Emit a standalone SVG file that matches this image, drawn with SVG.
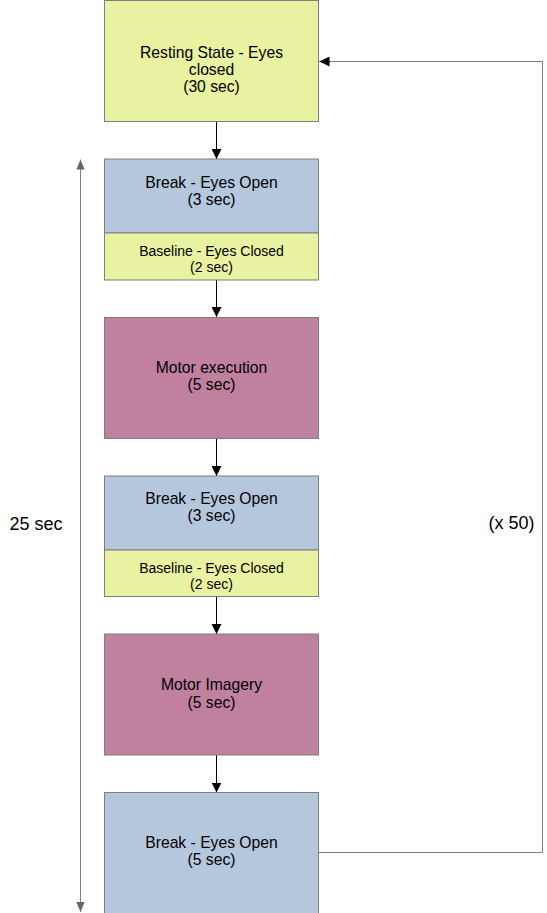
<svg xmlns="http://www.w3.org/2000/svg" width="547" height="913" viewBox="0 0 547 913">
<style>
.box{stroke:#7f7f7f;stroke-width:1}
.y{fill:#e8f2a1}
.b{fill:#b4c7dc}
.m{fill:#bf819e}
text{font-family:"Liberation Sans",Arial,sans-serif;fill:#000;text-anchor:middle}
.t{font-size:15.7px}
.s{font-size:14px}
.l{font-size:18px}
.c{fill:none;stroke:#000;stroke-width:1}
.g{fill:none;stroke:#7f7f7f;stroke-width:1}
</style>
<defs>
<marker id="ah" markerWidth="10" markerHeight="10" refX="10" refY="5" orient="auto" markerUnits="userSpaceOnUse">
<path d="M0,0 L10,5 L0,10 Z" fill="#000"/>
</marker>
<marker id="gh" markerWidth="10" markerHeight="12" refX="12" refY="5" orient="auto" markerUnits="userSpaceOnUse" viewBox="0 0 12 10">
<path d="M0,0 L12,5 L0,10 Z" fill="#666"/>
</marker>
</defs>
<rect width="547" height="913" fill="#fff"/>
<g id="connectors">
<line class="c" x1="216.5" y1="122" x2="216.5" y2="159" marker-end="url(#ah)"/>
<line class="c" x1="216.5" y1="280" x2="216.5" y2="317" marker-end="url(#ah)"/>
<line class="c" x1="216.5" y1="438.5" x2="216.5" y2="476" marker-end="url(#ah)"/>
<line class="c" x1="216.5" y1="596.5" x2="216.5" y2="634" marker-end="url(#ah)"/>
<line class="c" x1="216.5" y1="755" x2="216.5" y2="792.5" marker-end="url(#ah)"/>
<path class="g" d="M319,852.5 H542.5 V61.5 H330"/>
<line class="c" x1="330" y1="61.5" x2="319.5" y2="61.5" marker-end="url(#ah)"/>
<line class="g" x1="80.5" y1="180" x2="80.5" y2="893"/>
<line class="g" x1="80.5" y1="200" x2="80.5" y2="159.5" marker-end="url(#gh)"/>
<line class="g" x1="80.5" y1="880" x2="80.5" y2="912" marker-end="url(#gh)"/>
</g>
<g id="resting">
<rect class="box y" x="104.5" y="0.5" width="214" height="121"/>
<text class="t" x="211.5" y="57.5">Resting State - Eyes</text>
<text class="t" x="211.5" y="74.5">closed</text>
<text class="t" x="211.5" y="91.5">(30 sec)</text>
</g>
<g id="break1">
<rect class="box b" x="104.5" y="159" width="214" height="74"/>
<text class="t" x="211.5" y="187.5">Break - Eyes Open</text>
<text class="t" x="211.5" y="204.5">(3 sec)</text>
</g>
<g id="baseline1">
<rect class="box y" x="104.5" y="233" width="214" height="47"/>
<text class="s" x="211.5" y="256">Baseline - Eyes Closed</text>
<text class="s" x="211.5" y="272">(2 sec)</text>
</g>
<g id="motor-execution">
<rect class="box m" x="104.5" y="317.5" width="214" height="121"/>
<text class="t" x="211.5" y="372.5">Motor execution</text>
<text class="t" x="211.5" y="390">(5 sec)</text>
</g>
<g id="break2">
<rect class="box b" x="104.5" y="476" width="214" height="74"/>
<text class="t" x="211.5" y="503.5">Break - Eyes Open</text>
<text class="t" x="211.5" y="520.5">(3 sec)</text>
</g>
<g id="baseline2">
<rect class="box y" x="104.5" y="550" width="214" height="46.5"/>
<text class="s" x="211.5" y="573">Baseline - Eyes Closed</text>
<text class="s" x="211.5" y="589">(2 sec)</text>
</g>
<g id="motor-imagery">
<rect class="box m" x="104.5" y="634" width="214" height="121"/>
<text class="t" x="211.5" y="689.5">Motor Imagery</text>
<text class="t" x="211.5" y="707.5">(5 sec)</text>
</g>
<g id="break3">
<rect class="box b" x="104.5" y="792.5" width="214" height="121"/>
<text class="t" x="211.5" y="847.5">Break - Eyes Open</text>
<text class="t" x="211.5" y="864.5">(5 sec)</text>
</g>
<g id="labels">
<text class="l" x="36" y="529.5">25 sec</text>
<text class="l" x="511.5" y="528.5">(x 50)</text>
</g>
</svg>
